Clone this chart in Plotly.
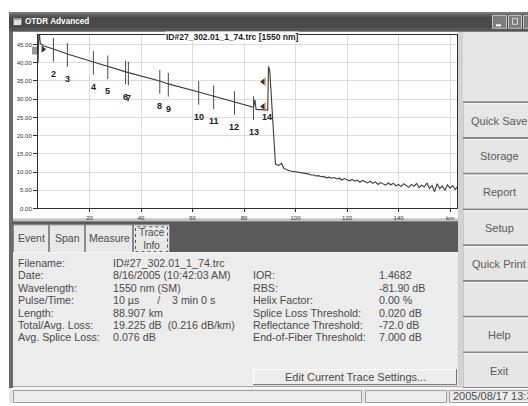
import plotly.graph_objects as go

W, H = 528, 406
FONT = "Liberation Sans"

# ---------------- data ----------------
trace_km = [0.0, 0.4, 0.9, 2.0, 6.0, 11.4, 21.5, 27.1, 34.0, 35.1, 47.3, 50.6, 62.4, 68.2,
            76.3, 83.7, 84.2, 84.7, 89.2, 89.5, 90.0, 92.2, 93.5, 94.6, 95.4, 96.5, 98.0]
trace_db = [40.0, 49.0, 45.3, 44.7, 43.8, 42.4, 40.2, 39.0, 37.6, 37.3, 35.0, 34.2, 32.0, 30.8,
            29.2, 27.8, 29.8, 27.2, 27.0, 39.0, 37.7, 12.2, 11.8, 12.4, 11.1, 10.6, 10.3]
tail_km = [100, 101, 102, 103, 104, 105, 106, 107, 108, 109, 110, 111, 112, 113, 114, 115,
           116, 117, 118, 119, 120, 121, 122, 123, 124, 125, 126, 127, 128, 129, 130, 131,
           132, 133, 134, 135, 136, 137, 138, 139, 140, 141, 142, 143, 144, 145, 146, 147,
           148, 149, 150, 151, 152, 153, 154, 155, 156, 157, 158, 159, 160, 161, 162, 163]
tail_db = [10.1, 10.0, 9.8, 9.7, 9.5, 9.5, 9.2, 9.2, 8.9, 9.0, 8.7, 8.8, 8.4, 8.6, 8.3, 8.5,
           8.1, 8.3, 7.8, 8.2, 7.9, 7.6, 8.0, 7.5, 7.8, 7.2, 7.7, 7.3, 7.0, 7.5, 6.9, 7.3,
           6.6, 7.1, 6.8, 6.4, 7.0, 6.5, 6.9, 6.2, 6.6, 6.0, 6.8, 6.3, 5.8, 6.6, 6.1, 6.9,
           5.7, 6.4, 5.9, 7.0, 5.5, 6.3, 4.6, 6.8, 5.4, 6.2, 5.0, 6.5, 5.6, 6.3, 5.2, 6.1]

event_labels = ["2", "3", "4", "5", "6", "7", "8", "9", "10", "11", "12", "13"]
event_km = [6.0, 11.4, 21.5, 27.1, 34.0, 35.1, 47.3, 50.6, 62.4, 68.2, 76.3, 83.7]
event_db = [43.8, 42.4, 40.2, 39.0, 37.6, 37.3, 35.0, 34.2, 32.0, 30.8, 29.2, 27.8]

start_marker_km = [2.0]
start_marker_db = [43.7]
end_label = "14"
end_label_km = 89.1
end_label_db = 31.9
end_marker_km = [87.4, 87.4]
end_marker_db = [34.8, 28.0]

x_tick_vals = [20, 40, 60, 80, 100, 120, 140, 160]
x_tick_text = ["20", "40", "60", "80", "100", "120", "140", "km"]
y_tick_vals = [0, 5, 10, 15, 20, 25, 30, 35, 40, 45]

chart_title = "ID#27_302.01_1_74.trc [1550 nm]"
window_title = "OTDR Advanced"
tab_names = ["Event", "Span", "Measure", "Trace<br>Info"]
left_labels = ["Filename:", "Date:", "Wavelength:", "Pulse/Time:", "Length:",
               "Total/Avg. Loss:", "Avg. Splice Loss:"]
left_values = ["ID#27_302.01_1_74.trc", "8/16/2005 (10:42:03 AM)", "1550 nm (SM)",
               "10 µs      /    3 min 0 s", "88.907 km", "19.225 dB  (0.216 dB/km)", "0.076 dB"]
right_labels = ["IOR:", "RBS:", "Helix Factor:", "Splice Loss Threshold:",
                "Reflectance Threshold:", "End-of-Fiber Threshold:"]
right_values = ["1.4682", "-81.90 dB", "0.00 %", "0.020 dB", "-72.0 dB", "7.000 dB"]
button_names = ["Quick Save", "Storage", "Report", "Setup", "Quick Print", "", "Help", "Exit"]
edit_button = "Edit Current Trace Settings..."
status_text = "2005/08/17 13:3"

# ---------------- helpers ----------------
shapes = []
annotations = []
TXT = "#4a4a4a"


def rect(x0, y0, x1, y1, fill, line=None, lw=1, layer="below", dash=None):
    ln = dict(width=0) if line is None else dict(color=line, width=lw)
    if dash:
        ln["dash"] = dash
    shapes.append(dict(type="rect", xref="paper", yref="paper",
                       x0=x0 / W, x1=x1 / W, y0=1 - y1 / H, y1=1 - y0 / H,
                       fillcolor=fill, line=ln, layer=layer))


def seg(x0, y0, x1, y1, color, lw=1, layer="below"):
    shapes.append(dict(type="line", xref="paper", yref="paper",
                       x0=x0 / W, x1=x1 / W, y0=1 - y0 / H, y1=1 - y1 / H,
                       line=dict(color=color, width=lw), layer=layer))


def text(x, y, s, size=11, color=TXT, bold=False, anchor="left", bg=None):
    a = dict(xref="paper", yref="paper", x=x / W, y=1 - y / H, text=("<b>%s</b>" % s) if bold else s,
             showarrow=False, xanchor=anchor, yanchor="middle", borderpad=0,
             font=dict(family=FONT, size=size, color=color))
    if bg:
        a["bgcolor"] = bg
    annotations.append(a)


# ---------------- window chrome ----------------
# title bar
rect(9, 12, 528, 32, "#4a4a4a")
rect(9, 12, 528, 14, "#7a7a7a")
rect(9, 14, 528, 17, "#5e5e5e")
rect(9, 28, 528, 32, "#555555")
rect(13, 18, 22, 26, "#e0e0e0", line="#303030", lw=1)
rect(13, 18, 22, 20, "#9a9a9a")
text(24, 22, window_title, size=8.2, color="#ffffff", bold=True)
for bx0, bx1 in [(492, 506), (508, 521), (523, 536)]:
    rect(bx0 + 0.5, 15.5, bx1 + 0.5, 28.5, "#7c7c7c", line="#c4c4c4", lw=1)
seg(496, 25.5, 501, 25.5, "#ffffff", 2)
rect(512.5, 18.5, 517.5, 24.5, "rgba(0,0,0,0)", line="#d8d8d8", lw=1)

# left window border
rect(9, 32, 13, 392, "#6a6a6a")
# chart panel
rect(13, 32, 458, 220, "#ffffff")
rect(13, 220, 458, 223, "#c4c4c4")
# gap between chart and buttons
rect(458, 32, 463, 392, "#d2d2d2")

# right buttons
rect(463, 32, 528, 104, "#e6e6e6")
seg(463, 103, 528, 103, "#8a8a8a", 2)
btn_tops = [104, 140, 176, 212, 248, 284, 320, 356]
for name, top in zip(button_names, btn_tops):
    rect(463, top, 528, top + 36, "#e6e6e6")
    seg(463, top + 0.5, 528, top + 0.5, "#fafafa", 1)
    seg(463.5, top, 463.5, top + 36, "#c8c8c8", 1)
    seg(463, top + 35, 528, top + 35, "#858585", 2)
    if name:
        text(499, top + 17.5, name, size=11, color="#5a5a5a", anchor="center")

# tab bar
rect(13, 223, 458, 254, "#5a5a5a")
tab_x = [13, 49, 85, 133, 170]
for i, name in enumerate(tab_names):
    x0, x1 = tab_x[i], tab_x[i + 1]
    rect(x0 + 0.5, 226.5, x1 - 0.5, 255, "#e8e8e8", line="#8a8a8a", lw=1)
    if i == 3:
        rect(x0 + 2.5, 228.5, x1 - 2.5, 253.5, "rgba(0,0,0,0)", line="#555555", lw=1, dash="dot")
        text((x0 + x1) / 2, 241, name, size=10, anchor="center")
    else:
        text((x0 + x1) / 2, 240, name, size=10.5, anchor="center")

# info panel
rect(13, 254, 458, 389, "#ececec")
seg(13, 254.5, 458, 254.5, "#f8f8f8", 1)
seg(13, 389.5, 458, 389.5, "#9a9a9a", 1)
row_y = [265, 277.5, 290, 302.5, 315, 327.5, 340]
for i, (lab, val) in enumerate(zip(left_labels, left_values)):
    text(17, row_y[i], lab, size=10.7)
    text(112, row_y[i], val, size=10.7)
for i, (lab, val) in enumerate(zip(right_labels, right_values)):
    text(252, row_y[i + 1], lab, size=10.7)
    text(378, row_y[i + 1], val, size=10.7)
# edit button
rect(253, 372, 457, 388, "#ececec")
seg(253, 372.5, 457, 372.5, "#ffffff", 1)
seg(253.5, 372, 253.5, 388, "#ffffff", 1)
seg(253, 387.5, 457, 387.5, "#707070", 1)
seg(456.5, 372, 456.5, 388, "#707070", 1)
text(355, 380, edit_button, size=11, anchor="center")

# status bar
rect(9, 391, 528, 406, "#e4e4e4")
seg(9, 391.5, 528, 391.5, "#ffffff", 1)
for sx0, sx1 in [(13, 362), (365, 447), (449, 540)]:
    rect(sx0 + 0.5, 393.5, sx1 - 0.5, 405.5, "#ececec", line="#a0a0a0", lw=1)
text(452, 399, status_text, size=11)

# event 1 cursor block
rect(32, 47, 37, 55, "#9a9a9a", layer="above")

# chart title on frame
text(232, 37, chart_title, size=8.5, color="#1e1e1e", bold=True, anchor="center", bg="#ffffff")

# ---------------- traces ----------------
fig = go.Figure()
fig.add_trace(go.Scatter(x=trace_km + tail_km, y=trace_db + tail_db, mode="lines",
                         line=dict(color="#3a3a3a", width=1.1), hoverinfo="skip"))

mx, my = [], []
for k, d in zip(event_km, event_db):
    mx += [k, k, None]
    my += [d - 3.5, d + 3.0, None]
fig.add_trace(go.Scatter(x=mx, y=my, mode="lines", line=dict(color="#4a4a4a", width=1),
                         hoverinfo="skip"))
fig.add_trace(go.Scatter(x=start_marker_km, y=start_marker_db, mode="markers",
                         marker=dict(symbol="triangle-right", size=6, color="#333333"),
                         hoverinfo="skip", cliponaxis=False))
fig.add_trace(go.Scatter(x=end_marker_km, y=end_marker_db, mode="markers",
                         marker=dict(symbol="triangle-left", size=6, color="#333333"),
                         hoverinfo="skip"))
fig.add_trace(go.Scatter(x=[k + 1.0 for k in end_marker_km], y=end_marker_db, mode="markers",
                         marker=dict(symbol="line-ns-open", size=7,
                                     line=dict(color="#333333", width=1)),
                         hoverinfo="skip"))

for lab, k, d in zip(event_labels, event_km, event_db):
    annotations.append(dict(x=k, y=d, xref="x", yref="y", text="<b>%s</b>" % lab, showarrow=False,
                            yshift=-25, xanchor="center", yanchor="middle",
                            font=dict(family=FONT, size=9, color="#202020")))
annotations.append(dict(x=end_label_km, y=end_label_db, xref="x", yref="y",
                        text="<b>%s</b>" % end_label, showarrow=False, yshift=-25,
                        xanchor="center", yanchor="middle",
                        font=dict(family=FONT, size=9, color="#202020")))

axis_common = dict(showline=True, mirror=True, linecolor="#303030", linewidth=1,
                   showgrid=True, gridcolor="#dcdcdc", gridwidth=1, zeroline=False,
                   ticks="outside", tickcolor="#303030", tickwidth=1,
                   tickfont=dict(family=FONT, size=6, color="#303030"), fixedrange=True)

fig.update_layout(
    width=W, height=H, margin=dict(l=0, r=0, t=0, b=0),
    paper_bgcolor="#ffffff", plot_bgcolor="#ffffff", showlegend=False,
    xaxis=dict(range=[0, 162.7], domain=[38 / W, 457 / W], tickvals=x_tick_vals,
               ticktext=x_tick_text, ticklen=3, **axis_common),
    yaxis=dict(range=[0, 47.7], domain=[1 - 210 / H, 1 - 35 / H], tickvals=y_tick_vals,
               tickformat=".2f", ticklen=4, **axis_common),
    shapes=shapes, annotations=annotations,
)

fig.write_html("out.html", config={"displayModeBar": False},
               post_script="document.body.style.margin='0px';document.body.style.padding='0px';"
                           "document.body.style.overflow='hidden';")
